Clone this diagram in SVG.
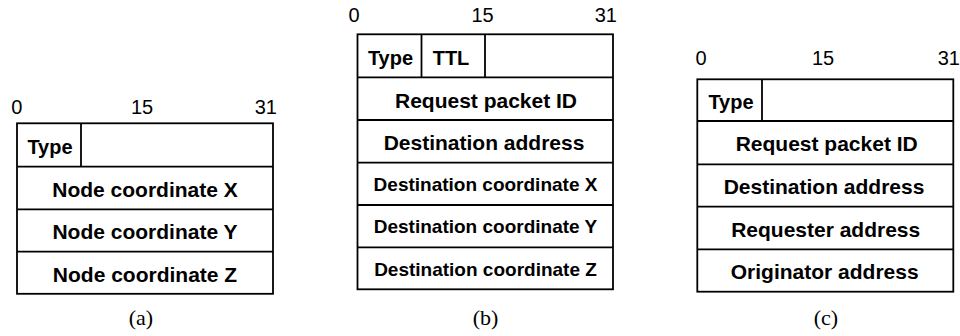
<svg xmlns="http://www.w3.org/2000/svg" width="960" height="336" viewBox="0 0 960 336">
<style>
.b { fill: none; stroke: #000; stroke-width: 1.8; }
.f { font-family: "Liberation Sans", Arial, sans-serif; font-weight: bold; font-size: 21px; text-anchor: middle; fill: #000; }
.t { font-size: 20px; }
.s { font-size: 19px; }
.n { font-family: "Liberation Sans", Arial, sans-serif; font-size: 20px; fill: #000; }
.c { font-family: "Liberation Serif", "Times New Roman", serif; font-size: 22px; text-anchor: middle; fill: #000; }
</style>
<rect width="960" height="336" fill="#fff"/>
<g id="panel-a">
  <text class="n" x="16.7" y="113.5" text-anchor="middle">0</text>
  <text class="n" x="142" y="113.5" text-anchor="middle">15</text>
  <text class="n" x="277" y="113.5" text-anchor="end">31</text>
  <rect class="b" x="17" y="123.3" width="256" height="170.5"/>
  <line class="b" x1="81" y1="123.3" x2="81" y2="166.7"/>
  <line class="b" x1="17" y1="166.7" x2="273" y2="166.7"/>
  <line class="b" x1="17" y1="209.3" x2="273" y2="209.3"/>
  <line class="b" x1="17" y1="251.7" x2="273" y2="251.7"/>
  <text class="f t" x="50" y="154">Type</text>
  <text class="f" x="145" y="196.5">Node coordinate X</text>
  <text class="f" x="145" y="239">Node coordinate Y</text>
  <text class="f" x="145" y="281.5">Node coordinate Z</text>
  <text class="c" x="141" y="324.5">(a)</text>
</g>
<g id="panel-b">
  <text class="n" x="354" y="21.7" text-anchor="middle">0</text>
  <text class="n" x="482.5" y="21.7" text-anchor="middle">15</text>
  <text class="n" x="617" y="21.7" text-anchor="end">31</text>
  <rect class="b" x="357.5" y="34.3" width="255.5" height="255"/>
  <line class="b" x1="421.5" y1="34.3" x2="421.5" y2="77.3"/>
  <line class="b" x1="485" y1="34.3" x2="485" y2="77.3"/>
  <line class="b" x1="357.5" y1="77.3" x2="613" y2="77.3"/>
  <line class="b" x1="357.5" y1="120" x2="613" y2="120"/>
  <line class="b" x1="357.5" y1="162.7" x2="613" y2="162.7"/>
  <line class="b" x1="357.5" y1="205" x2="613" y2="205"/>
  <line class="b" x1="357.5" y1="247.3" x2="613" y2="247.3"/>
  <text class="f t" x="390.5" y="65">Type</text>
  <text class="f t" x="451" y="65">TTL</text>
  <text class="f" x="486" y="107.5">Request packet ID</text>
  <text class="f" x="484" y="150">Destination address</text>
  <text class="f s" x="485.5" y="190.5">Destination coordinate X</text>
  <text class="f s" x="485.5" y="233">Destination coordinate Y</text>
  <text class="f s" x="485.5" y="275.5">Destination coordinate Z</text>
  <text class="c" x="485.5" y="324.5">(b)</text>
</g>
<g id="panel-c">
  <text class="n" x="701" y="65" text-anchor="middle">0</text>
  <text class="n" x="823" y="65" text-anchor="middle">15</text>
  <text class="n" x="960" y="65" text-anchor="end">31</text>
  <rect class="b" x="697.3" y="79.3" width="256" height="212.4"/>
  <line class="b" x1="762" y1="79.3" x2="762" y2="121"/>
  <line class="b" x1="697.3" y1="121" x2="953.3" y2="121"/>
  <line class="b" x1="697.3" y1="164.3" x2="953.3" y2="164.3"/>
  <line class="b" x1="697.3" y1="206.7" x2="953.3" y2="206.7"/>
  <line class="b" x1="697.3" y1="249.3" x2="953.3" y2="249.3"/>
  <text class="f t" x="731" y="109">Type</text>
  <text class="f" x="826.7" y="151">Request packet ID</text>
  <text class="f" x="824" y="194">Destination address</text>
  <text class="f" x="825.7" y="236.5">Requester address</text>
  <text class="f" x="824.7" y="279">Originator address</text>
  <text class="c" x="826" y="324.5">(c)</text>
</g>
</svg>
